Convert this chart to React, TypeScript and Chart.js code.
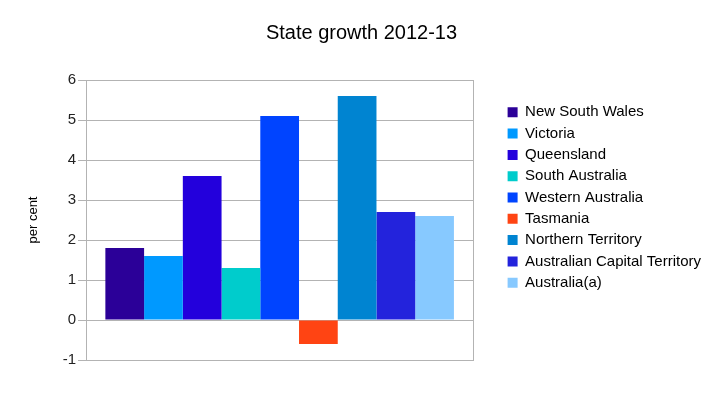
import React, { useEffect, useRef } from "react";
import { Chart, registerables } from "chart.js";

Chart.register(...registerables);

const categories = ["2012-13"];
const seriesNames = [
  "New South Wales",
  "Victoria",
  "Queensland",
  "South Australia",
  "Western Australia",
  "Tasmania",
  "Northern Territory",
  "Australian Capital Territory",
  "Australia(a)",
];
const seriesValues = [1.8, 1.6, 3.6, 1.3, 5.1, -0.6, 5.6, 2.7, 2.6];
const seriesColors = [
  "#2b0098",
  "#0099ff",
  "#2300dc",
  "#00cccc",
  "#0044ff",
  "#ff4413",
  "#0084d1",
  "#2323dc",
  "#87c9ff",
];
const yTicks = [-1, 0, 1, 2, 3, 4, 5, 6];

const FONT = "'Liberation Sans', Arial, Helvetica, sans-serif";
const GRID = "#b3b3b3";

const framePlugin = {
  id: "frame",
  afterDraw(chart: any) {
    const { ctx, chartArea } = chart;
    ctx.save();
    ctx.strokeStyle = GRID;
    ctx.lineWidth = 1;
    ctx.strokeRect(
      Math.round(chartArea.left) + 0.5,
      Math.round(chartArea.top) + 0.5,
      Math.round(chartArea.right - chartArea.left),
      Math.round(chartArea.bottom - chartArea.top)
    );
    ctx.restore();
  },
};

export default function App() {
  const ref = useRef<HTMLCanvasElement>(null);

  useEffect(() => {
    if (!ref.current) return;
    const chart = new Chart(ref.current, {
      type: "bar",
      data: {
        labels: categories,
        datasets: seriesNames.map((name, i) => ({
          label: name,
          data: [seriesValues[i]],
          backgroundColor: seriesColors[i],
          borderWidth: 0,
          categoryPercentage: 0.9,
          barPercentage: 1.0,
        })),
      },
      options: {
        animation: false,
        responsive: false,
        maintainAspectRatio: false,
        layout: { padding: { top: 10, bottom: 10, left: 12, right: 12 } },
        plugins: {
          title: {
            display: true,
            text: "State growth 2012-13",
            color: "#000",
            font: { family: FONT, size: 20, weight: "normal" },
            padding: { top: 11, bottom: 35 },
          },
          legend: {
            position: "right",
            align: "center",
            maxWidth: 215,
            labels: {
              boxWidth: 10,
              boxHeight: 10,
              padding: 6.3,
              color: "#000",
              font: { family: FONT, size: 15 },
            },
          },
          tooltip: { enabled: false },
        },
        scales: {
          x: {
            display: true,
            ticks: { display: false },
            grid: { display: false },
            border: { display: false },
            afterFit: (s: any) => {
              s.height = 25;
            },
          },
          y: {
            min: -1,
            max: 6,
            afterBuildTicks: (s: any) => {
              s.ticks = yTicks.map((v) => ({ value: v }));
            },
            ticks: {
              color: "#222",
              padding: 2,
              font: { family: FONT, size: 15 },
            },
            grid: {
              color: GRID,
              tickLength: 8,
              lineWidth: 1,
            },
            border: { display: true, color: GRID },
            title: {
              display: true,
              text: "per cent",
              color: "#000",
              font: { family: FONT, size: 13 },
              padding: { top: 14, bottom: 4 },
            },
            afterFit: (s: any) => {
              s.width = 74;
            },
          },
          y2: {
            position: "right",
            display: true,
            ticks: { display: false },
            grid: { display: false },
            border: { display: false },
            afterFit: (s: any) => {
              s.width = 28;
            },
          },
        },
      },
      plugins: [framePlugin],
    } as any);
    return () => chart.destroy();
  }, []);

  return (
    <div style={{ position: "fixed", left: 0, top: 0, width: 723, height: 395, background: "#fff" }}>
      <canvas ref={ref} width={723} height={395} style={{ width: 723, height: 395 }} />
    </div>
  );
}
